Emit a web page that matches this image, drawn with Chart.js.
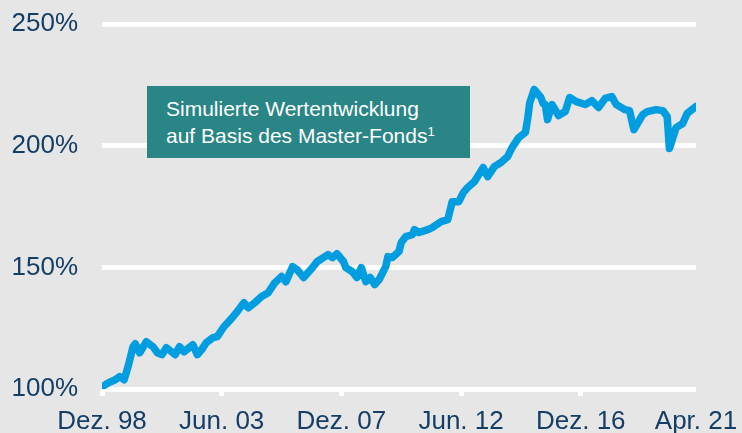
<!DOCTYPE html>
<html lang="de">
<head>
<meta charset="utf-8">
<title>Simulierte Wertentwicklung</title>
<script src="https://cdn.jsdelivr.net/npm/chart.js@4.4.1/dist/chart.umd.min.js"></script>
<style>
    html, body {
        margin: 0;
        padding: 0;
        background: #e6e6e6;
    }
    .chart-wrap {
        position: relative;
        width: 742px;
        height: 433px;
        overflow: hidden;
    }
    .note {
        position: absolute;
        left: 147px;
        top: 86px;
        width: 304px;
        height: 62px;
        padding: 10px 0 0 19px;
        background: #2a8686;
        color: #ffffff;
        font-family: "Liberation Sans", Arial, sans-serif;
        font-size: 21px;
        line-height: 26.7px;
        white-space: nowrap;
    }
    .note .sup {
        position: relative;
        top: -7px;
        font-size: 13px;
    }
</style>
</head>
<body>
<div class="chart-wrap">
    <canvas id="perfChart"></canvas>
    <div class="note">Simulierte Wertentwicklung<br>auf Basis des Master-Fonds<span class="sup">1</span></div>
</div>

<script>
// Months since Dez. 98 (sample points)
const months = [
    0, 3, 6, 8, 10, 12, 14, 15, 17, 20,
    23, 25, 27, 29, 33, 35, 37, 41, 43, 45,
    47, 50, 52, 55, 58, 61, 64, 66, 69, 72,
    75, 78, 81, 83, 86, 88, 91, 95, 97, 102,
    104, 106, 109, 110, 113, 115, 117, 119, 121, 123,
    125, 128, 129, 131, 134, 135, 137, 140, 141, 143,
    147, 149, 151, 153, 156, 158, 161, 163, 165, 168,
    172, 174, 177, 180, 183, 185, 188, 191, 192, 193,
    195, 198, 199, 200, 201, 203, 206, 209, 211, 214,
    218, 221, 224, 227, 230, 232, 236, 238, 240, 244,
    246, 250, 253, 255, 256, 259, 262, 264, 268
];

// Simulated value in % (start = 100%)
const values = [
    100.9, 102.6, 103.8, 105.1, 103.8, 110.0, 117.4, 118.6, 114.9, 119.4,
    117.4, 114.9, 114.1, 117.0, 114.1, 117.4, 115.3, 118.2, 114.1, 116.2,
    119.0, 121.1, 121.5, 125.6, 128.5, 131.8, 135.5, 133.4, 135.5, 138.0,
    139.6, 143.7, 146.2, 144.1, 150.3, 149.1, 145.8, 149.9, 152.3, 155.2,
    154.0, 155.6, 152.3, 149.9, 148.2, 145.8, 149.9, 144.1, 145.8, 142.9,
    144.9, 150.3, 154.4, 154.0, 156.5, 160.2, 162.6, 163.4, 165.5, 164.3,
    165.5, 166.3, 167.6, 168.8, 169.6, 177.0, 177.0, 180.7, 182.8, 185.2,
    191.0, 187.3, 191.4, 193.1, 195.5, 199.2, 203.3, 205.4, 210.7, 217.7,
    223.1, 219.8, 217.3, 216.9, 210.7, 216.9, 212.4, 214.0, 219.8, 218.1,
    216.9, 218.5, 215.7, 219.4, 220.2, 216.9, 214.8, 214.4, 206.6, 212.8,
    214.0, 214.8, 214.4, 212.0, 198.8, 207.4, 209.1, 213.2, 216.1
];

// X axis ticks
const tickMonths = [0, 54, 108, 162, 216, 268];
const tickLabels = ['Dez. 98', 'Jun. 03', 'Dez. 07', 'Jun. 12', 'Dez. 16', 'Apr. 21'];

// Y axis ticks
const yTicks = [100, 150, 200, 250];

const FONT = "'Liberation Sans', Arial, sans-serif";
const LABEL_COLOR = '#153e66';

const ctx = document.getElementById('perfChart');

new Chart(ctx, {
    type: 'line',
    data: {
        datasets: [{
            data: months.map((m, i) => ({ x: m, y: values[i] })),
            borderColor: '#009ee0',
            borderWidth: 7.5,
            borderJoinStyle: 'round',
            borderCapStyle: 'round',
            pointRadius: 0,
            tension: 0,
            fill: false
        }]
    },
    options: {
        responsive: true,
        maintainAspectRatio: false,
        animation: false,
        layout: { padding: { top: 24, right: 46, left: 0, bottom: 0 } },
        plugins: {
            legend: { display: false },
            tooltip: { enabled: false }
        },
        scales: {
            x: {
                type: 'linear',
                min: tickMonths[0],
                max: tickMonths[tickMonths.length - 1],
                afterBuildTicks: (scale) => {
                    scale.ticks = tickMonths.map(v => ({ value: v }));
                },
                afterFit: (scale) => {
                    scale.height = 44;
                    scale.paddingLeft = 0;
                    scale.paddingRight = 0;
                },
                border: { display: false },
                grid: {
                    drawOnChartArea: false,
                    drawTicks: true,
                    tickLength: 7,
                    lineWidth: 5,
                    color: (c) => c.index === tickMonths.length - 1 ? 'rgba(0,0,0,0)' : '#ffffff'
                },
                ticks: {
                    autoSkip: false,
                    maxRotation: 0,
                    minRotation: 0,
                    padding: 10,
                    color: LABEL_COLOR,
                    font: { family: FONT, size: 26 },
                    callback: (value) => {
                        const idx = tickMonths.indexOf(value);
                        return idx >= 0 ? tickLabels[idx] : null;
                    }
                }
            },
            y: {
                min: yTicks[0],
                max: yTicks[yTicks.length - 1],
                afterBuildTicks: (scale) => {
                    scale.ticks = yTicks.map(v => ({ value: v }));
                },
                afterFit: (scale) => {
                    scale.width = 102;
                    scale.paddingTop = 0;
                    scale.paddingBottom = 0;
                },
                border: { display: false },
                grid: {
                    color: '#ffffff',
                    lineWidth: 5,
                    drawTicks: false
                },
                ticks: {
                    padding: 24,
                    color: LABEL_COLOR,
                    font: { family: FONT, size: 26 },
                    callback: (value) => value + '%'
                }
            }
        }
    }
});
</script>
</body>
</html>
